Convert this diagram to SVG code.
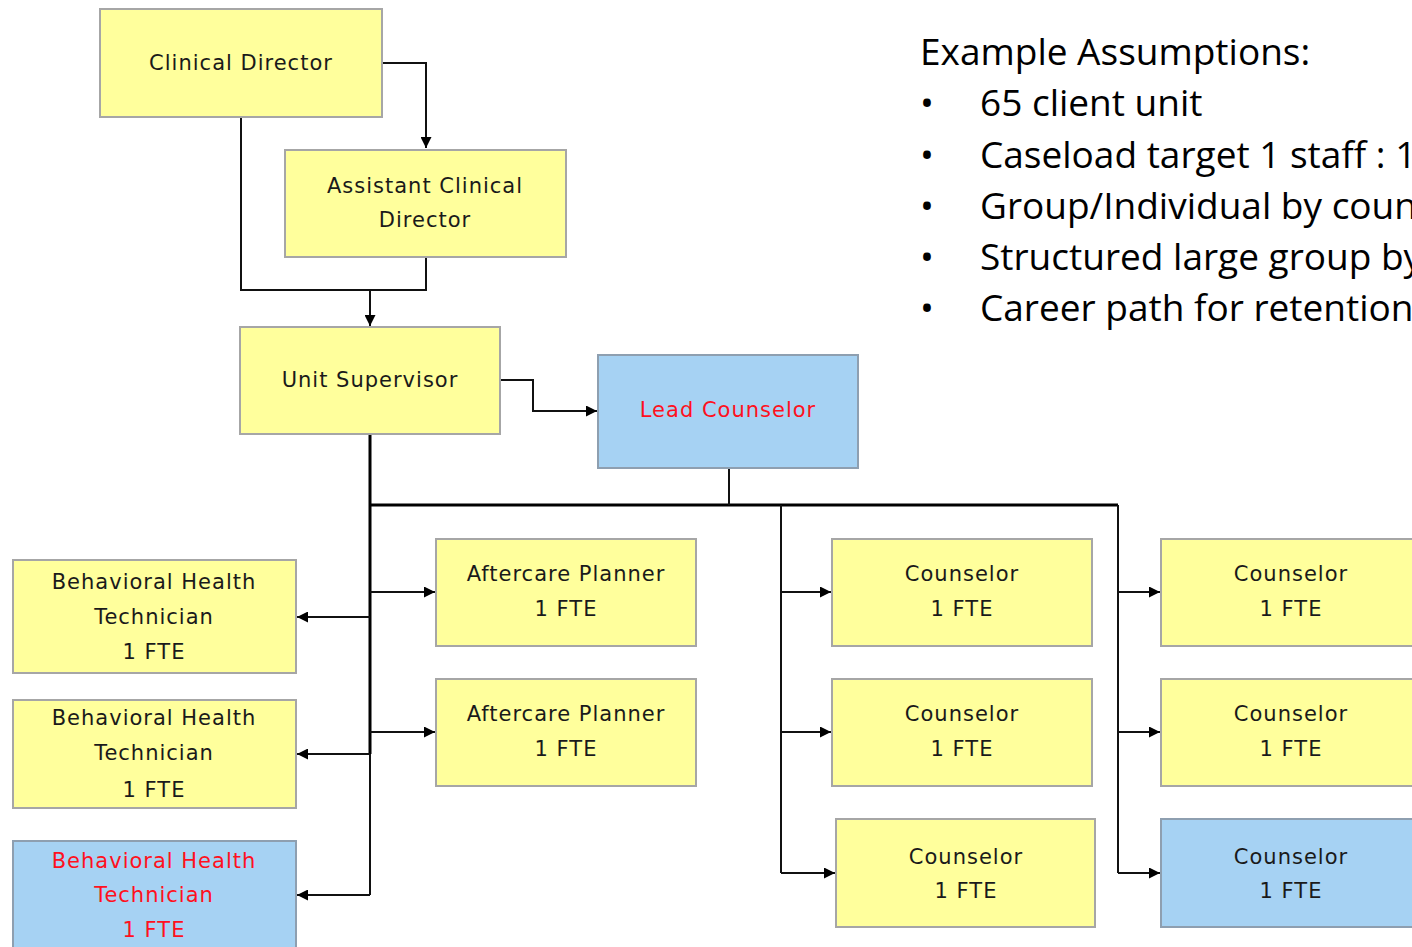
<svg xmlns="http://www.w3.org/2000/svg" width="1412" height="947" viewBox="0 0 1412 947">
<defs>
<marker id="ah" viewBox="0 0 10 10" refX="10" refY="5" markerWidth="11" markerHeight="11" markerUnits="userSpaceOnUse" orient="auto">
<path d="M0,0 L10,5 L0,10 z" fill="#000"/>
</marker>
</defs>
<style>
.y{fill:#FFFF9C;stroke:#A6A6A6;stroke-width:2}
.b{fill:#A6D2F3;stroke:#8E9FB0;stroke-width:2}
.t{font-family:"DejaVu Sans",Verdana,sans-serif;font-size:21px;letter-spacing:1px;fill:#1a1a1a;text-anchor:middle}
.r{fill:#FF1020}
.c{fill:none;stroke:#111;stroke-width:2}
.k{fill:none;stroke:#000;stroke-width:3}
.a{font-family:"Open Sans","Liberation Sans",sans-serif;font-size:37px;fill:#000}
</style>
<rect width="1412" height="947" fill="#fff"/>
<g id="connectors">
<path class="c" d="M382,63 H426 V148" marker-end="url(#ah)"/>
<path class="c" d="M241,117 V290 H426 V257"/>
<path class="c" d="M370,290 V326" marker-end="url(#ah)"/>
<path class="c" d="M500,380 H533 V411 H597" marker-end="url(#ah)"/>
<path class="k" d="M370,434 V754"/>
<path class="c" d="M370,754 V895"/>
<path class="k" d="M370,505 H1118"/>
<path class="c" d="M729,468 V505"/>
<path class="c" d="M370,617 H297" marker-end="url(#ah)"/>
<path class="c" d="M370,754 H297" marker-end="url(#ah)"/>
<path class="c" d="M370,895 H297" marker-end="url(#ah)"/>
<path class="c" d="M370,592 H435" marker-end="url(#ah)"/>
<path class="c" d="M370,732 H435" marker-end="url(#ah)"/>
<path class="c" d="M781,505 V873"/>
<path class="c" d="M781,592 H831" marker-end="url(#ah)"/>
<path class="c" d="M781,732 H831" marker-end="url(#ah)"/>
<path class="c" d="M781,873 H835" marker-end="url(#ah)"/>
<path class="c" d="M1118,505 V873"/>
<path class="c" d="M1118,592 H1160" marker-end="url(#ah)"/>
<path class="c" d="M1118,732 H1160" marker-end="url(#ah)"/>
<path class="c" d="M1118,873 H1160" marker-end="url(#ah)"/>
</g>
<g id="clinical-director"><rect class="y" x="100" y="9" width="282" height="108"/><text class="t" x="241" y="70">Clinical Director</text></g>
<g id="assistant-clinical-director"><rect class="y" x="285" y="150" width="281" height="107"/><text class="t" x="425" y="193">Assistant Clinical</text><text class="t" x="425" y="227">Director</text></g>
<g id="unit-supervisor"><rect class="y" x="240" y="327" width="260" height="107"/><text class="t" x="370" y="387">Unit Supervisor</text></g>
<g id="lead-counselor"><rect class="b" x="598" y="355" width="260" height="113"/><text class="t r" x="728" y="417">Lead Counselor</text></g>
<g id="bht-1"><rect class="y" x="13" y="560" width="283" height="113"/><text class="t" x="154" y="589">Behavioral Health</text><text class="t" x="154" y="624">Technician</text><text class="t" x="154" y="659">1 FTE</text></g>
<g id="bht-2"><rect class="y" x="13" y="700" width="283" height="108"/><text class="t" x="154" y="725">Behavioral Health</text><text class="t" x="154" y="760">Technician</text><text class="t" x="154" y="797">1 FTE</text></g>
<g id="bht-3"><rect class="b" x="13" y="841" width="283" height="112"/><text class="t r" x="154" y="868">Behavioral Health</text><text class="t r" x="154" y="902">Technician</text><text class="t r" x="154" y="937">1 FTE</text></g>
<g id="aftercare-1"><rect class="y" x="436" y="539" width="260" height="107"/><text class="t" x="566" y="581">Aftercare Planner</text><text class="t" x="566" y="616">1 FTE</text></g>
<g id="aftercare-2"><rect class="y" x="436" y="679" width="260" height="107"/><text class="t" x="566" y="721">Aftercare Planner</text><text class="t" x="566" y="756">1 FTE</text></g>
<g id="counselor-1"><rect class="y" x="832" y="539" width="260" height="107"/><text class="t" x="962" y="581">Counselor</text><text class="t" x="962" y="616">1 FTE</text></g>
<g id="counselor-2"><rect class="y" x="832" y="679" width="260" height="107"/><text class="t" x="962" y="721">Counselor</text><text class="t" x="962" y="756">1 FTE</text></g>
<g id="counselor-3"><rect class="y" x="836" y="819" width="259" height="108"/><text class="t" x="966" y="864">Counselor</text><text class="t" x="966" y="898">1 FTE</text></g>
<g id="counselor-4"><rect class="y" x="1161" y="539" width="260" height="107"/><text class="t" x="1291" y="581">Counselor</text><text class="t" x="1291" y="616">1 FTE</text></g>
<g id="counselor-5"><rect class="y" x="1161" y="679" width="260" height="107"/><text class="t" x="1291" y="721">Counselor</text><text class="t" x="1291" y="756">1 FTE</text></g>
<g id="counselor-6"><rect class="b" x="1161" y="819" width="260" height="108"/><text class="t" x="1291" y="864">Counselor</text><text class="t" x="1291" y="898">1 FTE</text></g>
<g id="assumptions">
<text class="a" x="920" y="65">Example Assumptions:</text>
<text class="a" x="920" y="116">•</text><text class="a" x="980" y="116">65 client unit</text>
<text class="a" x="920" y="168">•</text><text class="a" x="980" y="168">Caseload target 1 staff : 1</text>
<text class="a" x="920" y="219">•</text><text class="a" x="980" y="219">Group/Individual by coun</text>
<text class="a" x="920" y="270">•</text><text class="a" x="980" y="270">Structured large group by</text>
<text class="a" x="920" y="321">•</text><text class="a" x="980" y="321">Career path for retention</text>
</g>
</svg>
